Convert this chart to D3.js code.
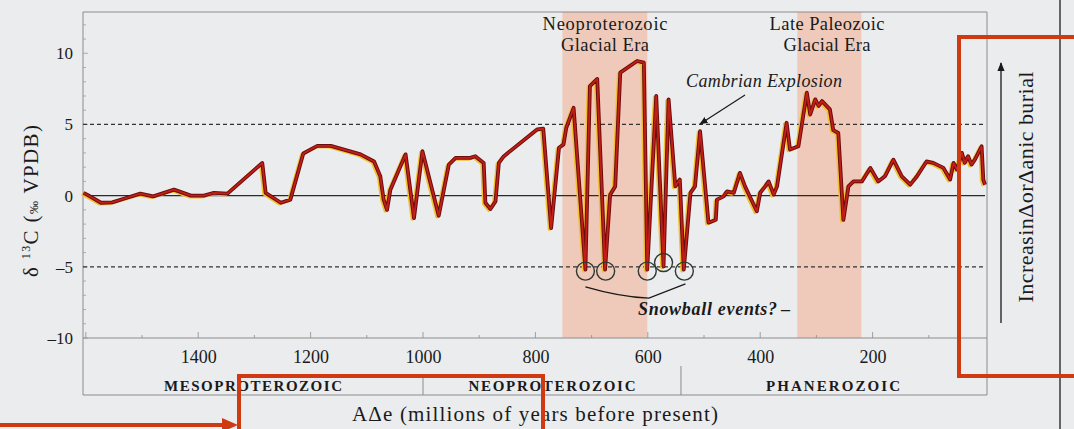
<!DOCTYPE html>
<html>
<head>
<meta charset="utf-8">
<script src="https://cdn.jsdelivr.net/npm/d3@7"></script>
<style>
  html, body { margin: 0; padding: 0; background: #eaecee; }
  svg { display: block; }
  text { font-family: "Liberation Serif", "DejaVu Serif", serif; fill: #1a1a1a; }
</style>
</head>
<body>
<svg id="chart" width="1074" height="429"></svg>
<script>
// ---- data ----
const ages = [1604,1597,1573,1553,1531,1503,1480,1443,1413,1390,1372,1348,1286,1280,1253,1236,1213,1188,1164,1111,1087,1076,1070,1064,1058,1031,1016,1001,972,954,942,916,907,892,889,880,871,865,856,797,786,772,758,750,745,732,711,703,690,676,667,658,649,619,607,601,585,572,563,551,543,536,524,516,507,492,479,477,465,459,447,436,427,406,400,391,385,376,370,353,347,332,317,311,302,296,290,276,270,261,252,243,234,219,204,190,178,163,148,133,121,104,92,74,62,56,50,41,36,30,24,18,6,3,0];
const d13C = [0.2,0.05,-0.5,-0.47,-0.2,0.14,-0.05,0.42,0.0,0.0,0.2,0.14,2.3,0.2,-0.5,-0.28,2.96,3.5,3.5,2.9,2.4,1.36,-0.28,-1.0,0.42,2.9,-1.57,3.12,-1.41,2.18,2.65,2.65,2.77,2.3,-0.5,-0.94,-0.4,2.3,2.77,4.65,4.7,-2.28,3.36,3.6,4.77,6.17,-5.2,7.7,8.2,-5.2,0.07,0.65,8.64,9.46,9.34,-5.2,7.0,-4.98,6.76,0.65,1.13,-5.2,0.19,0.65,4.53,-1.9,-1.7,-0.28,-0.05,0.3,0.19,1.6,0.65,-1.1,0.2,0.65,1.0,0.07,0.65,5.12,3.24,3.47,7.23,5.7,6.76,6.3,6.64,6.06,4.6,4.4,-1.7,0.65,1.0,1.0,1.95,1.0,1.36,2.53,1.36,0.77,1.36,2.4,2.3,1.95,1.13,2.3,1.83,3.0,2.3,2.77,2.18,2.53,3.47,1.13,0.77];

const snowballAges = [711, 675, 601, 572, 535];
const snowballVals = [-5.3, -5.3, -5.3, -4.7, -5.3];

const glacialNames = [["Neoproterozoic", "Glacial Era"], ["Late Paleozoic", "Glacial Era"]];
const glacialStart = [752, 334];
const glacialEnd = [601, 220];

const eraNames = ["MESOPROTEROZOIC", "NEOPROTEROZOIC", "PHANEROZOIC"];
const eraStart = [1605, 1000, 541];
const eraEnd = [1000, 541, 0];

const xTicks = [1400, 1200, 1000, 800, 600, 400, 200];
const yTicks = [-10, -5, 0, 5, 10];
const refLines = [5, -5];

// ---- layout ----
const svg = d3.select("#chart");
const L = 83, R = 985, T = 12, B = 338;
const x = d3.scaleLinear().domain([1605, 0]).range([L, R]);
const y = d3.scaleLinear().domain([-10, 12.9]).range([B, T]);

// glacial shading
glacialStart.forEach((s, i) => {
  svg.append("rect")
    .attr("x", x(s)).attr("y", T)
    .attr("width", x(glacialEnd[i]) - x(s)).attr("height", B - T)
    .attr("fill", "#efc5b2").attr("opacity", 0.9);
});

// frame
const frame = svg.append("g").attr("stroke", "#8a8c8e").attr("fill", "none").attr("stroke-width", 1);
frame.append("line").attr("x1", L).attr("x2", R + 2).attr("y1", T).attr("y2", T);
frame.append("line").attr("x1", L).attr("x2", L).attr("y1", T).attr("y2", 395);
frame.append("line").attr("x1", R + 2).attr("x2", R + 2).attr("y1", T).attr("y2", 395);
frame.append("line").attr("x1", L).attr("x2", R + 2).attr("y1", B).attr("y2", B);
frame.append("line").attr("x1", L).attr("x2", R + 2).attr("y1", 395).attr("y2", 395);

// minor ticks y
d3.range(-10, 13, 1).forEach(v => {
  svg.append("line").attr("x1", L).attr("x2", L + (v % 5 === 0 ? 5 : 3))
    .attr("y1", y(v)).attr("y2", y(v)).attr("stroke", "#9a9c9e").attr("stroke-width", 0.8);
});
// minor ticks x
d3.range(1600, 0, -100).forEach(v => {
  svg.append("line").attr("x1", x(v)).attr("x2", x(v))
    .attr("y1", B).attr("y2", B - (v % 200 === 0 ? 6 : 3)).attr("stroke", "#8a8c8e").attr("stroke-width", 0.8);
});

// reference lines
refLines.forEach(v => {
  svg.append("line").attr("x1", L).attr("x2", R).attr("y1", y(v)).attr("y2", y(v))
    .attr("stroke", "#333").attr("stroke-width", 1.3).attr("stroke-dasharray", "4,3");
});
svg.append("line").attr("x1", L).attr("x2", R).attr("y1", y(0)).attr("y2", y(0))
  .attr("stroke", "#2a2a2a").attr("stroke-width", 1.4);

// axes labels
const xAxis = svg.append("g").attr("transform", `translate(0,${B})`)
  .call(d3.axisBottom(x).tickValues(xTicks).tickSize(0).tickPadding(12).tickFormat(d3.format("d")));
xAxis.select(".domain").remove();
xAxis.selectAll("text").style("font-family", "Liberation Serif, serif").style("font-size", "18px").attr("fill", "#1a1a1a");

const yAxis = svg.append("g").attr("transform", `translate(${L - 10},0)`)
  .call(d3.axisLeft(y).tickValues(yTicks).tickSize(0).tickPadding(0).tickFormat(d => d < 0 ? "–" + Math.abs(d) : d));
yAxis.select(".domain").remove();
yAxis.selectAll("text").style("font-family", "Liberation Serif, serif").style("font-size", "17px").attr("fill", "#1a1a1a");

// era band
const eraWidths = [178, 167, 134];
eraStart.forEach((s, i) => {
  if (i > 0) {
    svg.append("line").attr("x1", x(s)).attr("x2", x(s)).attr("y1", i === 1 ? 376 : 366).attr("y2", 395)
      .attr("stroke", "#8a8c8e").attr("stroke-width", 1);
  }
  svg.append("text").attr("x", (x(s) + x(eraEnd[i])) / 2).attr("y", 391)
    .attr("text-anchor", "middle").style("font-size", "15px").style("font-weight", "bold")
    .attr("textLength", eraWidths[i]).attr("lengthAdjust", "spacing").text(eraNames[i]);
});

// data line
const line = d3.line().x((d, i) => x(ages[i])).y((d, i) => y(d13C[i]));
svg.append("path").datum(d13C).attr("d", line).attr("fill", "none")
  .attr("stroke", "#f0c030").attr("stroke-width", 3.2).attr("stroke-linejoin", "round")
  .attr("transform", "translate(-1.8,1.2)");
svg.append("path").datum(d13C).attr("d", line).attr("fill", "none")
  .attr("stroke", "#6a0d0d").attr("stroke-width", 3.8).attr("stroke-linejoin", "round");
svg.append("path").datum(d13C).attr("d", line).attr("fill", "none")
  .attr("stroke", "#c41e1a").attr("stroke-width", 1.8).attr("stroke-linejoin", "round");

// snowball circles
snowballAges.forEach((a, i) => {
  svg.append("circle").attr("cx", x(a)).attr("cy", y(snowballVals[i])).attr("r", 9)
    .attr("fill", "none").attr("stroke", "#2e3a32").attr("stroke-width", 1.4);
});
svg.append("path")
  .attr("d", `M${x(711)},${y(-6.4)} Q${x(650)},${y(-7.1)} ${x(598)},${y(-7.2)} L${x(533)},${y(-6.2)}`)
  .attr("fill", "none").attr("stroke", "#1a1a1a").attr("stroke-width", 1.3);
svg.append("text").attr("x", 638).attr("y", 315).style("font-size", "18px").style("font-style", "italic")
  .style("font-weight", "bold").attr("textLength", 139).attr("lengthAdjust", "spacing").text("Snowball events?");
svg.append("text").attr("x", 781).attr("y", 315).style("font-size", "18px").style("font-weight", "bold").text("–");

// glacial labels
const glacialCx = [605, 827];
const glacialW = [[125, 88], [115, 87]];
glacialStart.forEach((s, i) => {
  svg.append("text").attr("x", glacialCx[i]).attr("y", 30).attr("text-anchor", "middle").style("font-size", "18.5px")
    .attr("textLength", glacialW[i][0]).attr("lengthAdjust", "spacing").text(glacialNames[i][0]);
  svg.append("text").attr("x", glacialCx[i]).attr("y", 51).attr("text-anchor", "middle").style("font-size", "18.5px")
    .attr("textLength", glacialW[i][1]).attr("lengthAdjust", "spacing").text(glacialNames[i][1]);
});

// Cambrian explosion
svg.append("text").attr("x", 686).attr("y", 87).style("font-size", "18px").style("font-style", "italic")
  .attr("textLength", 156).attr("lengthAdjust", "spacing").text("Cambrian Explosion");
svg.append("defs").html(`
  <marker id="ah" viewBox="0 0 10 10" refX="9" refY="5" markerWidth="7" markerHeight="7" orient="auto-start-reverse">
    <path d="M0,1 L10,5 L0,9 z" fill="#1a1a1a"/></marker>`);
svg.append("line").attr("x1", 745).attr("y1", 95).attr("x2", 700).attr("y2", 124)
  .attr("stroke", "#1a1a1a").attr("stroke-width", 1.2).attr("marker-end", "url(#ah)");

// axis titles
svg.append("text").attr("transform", "translate(38,201) rotate(-90)").attr("text-anchor", "middle")
  .style("font-size", "21px").attr("textLength", 152).attr("lengthAdjust", "spacing")
  .html('δ <tspan font-size="12" dy="-8">13</tspan><tspan dy="8">C (</tspan><tspan font-size="13">‰</tspan> VPDB)');
svg.append("text").attr("x", 535).attr("y", 421).attr("text-anchor", "middle").style("font-size", "21px")
  .attr("textLength", 366).attr("lengthAdjust", "spacing")
  .text("AΔe (millions of years before present)");

// right side: organic burial
svg.append("line").attr("x1", 1001).attr("x2", 1001).attr("y1", 323).attr("y2", 63)
  .attr("stroke", "#1a1a1a").attr("stroke-width", 1.3).attr("marker-end", "url(#ah)");
svg.append("text").attr("transform", "translate(1033,187) rotate(-90)").attr("text-anchor", "middle")
  .style("font-size", "22px").attr("textLength", 231).attr("lengthAdjust", "spacing").text("IncreasinΔorΔanic burial");
svg.append("line").attr("x1", 1060).attr("x2", 1060).attr("y1", 0).attr("y2", 429)
  .attr("stroke", "#3a3a3a").attr("stroke-width", 1.5);

// red overlay boxes
svg.append("rect").attr("x", 959).attr("y", 37).attr("width", 130).attr("height", 339)
  .attr("fill", "none").attr("stroke", "#cf3a12").attr("stroke-width", 4);
svg.append("rect").attr("x", 239).attr("y", 376).attr("width", 304).attr("height", 80)
  .attr("fill", "none").attr("stroke", "#cf3a12").attr("stroke-width", 4);
svg.append("line").attr("x1", 0).attr("x2", 226).attr("y1", 425).attr("y2", 425)
  .attr("stroke", "#cf3a12").attr("stroke-width", 4);
svg.append("path").attr("d", "M222,418 L238,425 L222,432 z").attr("fill", "#cf3a12");
</script>
</body>
</html>
